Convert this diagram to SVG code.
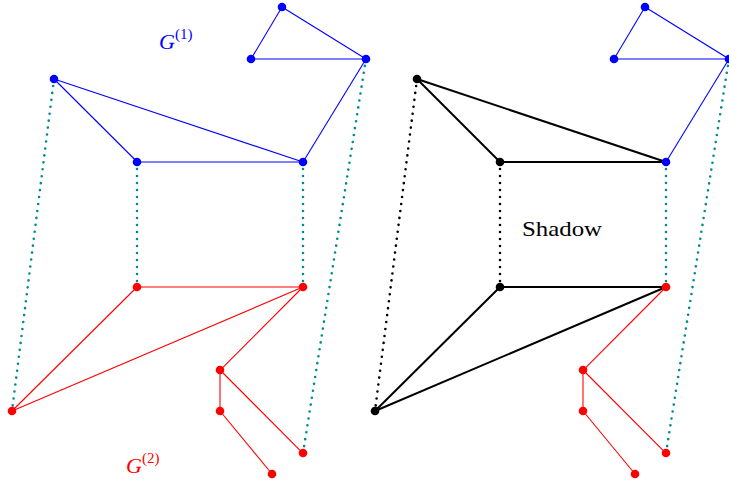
<svg xmlns="http://www.w3.org/2000/svg" width="729" height="482" viewBox="0 0 729 482">
<style>
.b{stroke:#0000ff;stroke-width:1.1;fill:none}
.r{stroke:#ff0000;stroke-width:1.1;fill:none}
.k{stroke:#000000;stroke-width:2;fill:none}
.dt{stroke:#008b8b;stroke-width:2.6;stroke-linecap:round;stroke-dasharray:0 7;fill:none}
.dk{stroke:#000000;stroke-width:2.6;stroke-linecap:round;stroke-dasharray:0 7;fill:none}
.nb{fill:#0000ff}
.nr{fill:#ff0000}
.nk{fill:#000000}
.lbl{font-family:"Liberation Serif","DejaVu Serif",serif}
</style>
<g id="connectors">
<path class="b" stroke="#0000ff" d="M282 7 L251 59"/>
<path class="b" stroke="#0000ff" d="M282 7 L366 59"/>
<path class="b" stroke="#0000ff" d="M251 59 L366 59"/>
<path class="b" stroke="#0000ff" d="M366 59 L303 162"/>
<path class="b" stroke="#0000ff" d="M54 79 L303 162"/>
<path class="b" stroke="#0000ff" d="M54 79 L137.3 162"/>
<path class="b" stroke="#0000ff" d="M137 162 L303 162"/>
<path class="r" stroke="#ff0000" d="M137 287 L303 287"/>
<path class="r" stroke="#ff0000" d="M137 287 L12 411"/>
<path class="r" stroke="#ff0000" d="M303 287 L12 411"/>
<path class="r" stroke="#ff0000" d="M303 287 L220 370.3"/>
<path class="r" stroke="#ff0000" d="M220 370 L220 411"/>
<path class="r" stroke="#ff0000" d="M220 370 L303 453.3"/>
<path class="r" stroke="#ff0000" d="M220 411 L272 474"/>
<path class="dt" d="M54 79 L12 411"/>
<path class="dt" d="M137 162 L137 287"/>
<path class="dt" d="M303 162 L303 287"/>
<path class="dt" d="M366 59 L303 453"/>
<path class="b" stroke="#0000ff" d="M645 7 L614 59"/>
<path class="b" stroke="#0000ff" d="M645 7 L729 59"/>
<path class="b" stroke="#0000ff" d="M614 59 L729 59"/>
<path class="b" stroke="#0000ff" d="M729 59 L666 162"/>
<path class="k" d="M417 79 L666 162"/>
<path class="k" d="M417 79 L500 162"/>
<path class="k" d="M500 162 L666 162"/>
<path class="k" d="M500 287 L666 287"/>
<path class="k" d="M500 287 L375 411"/>
<path class="k" d="M666 287 L375 411"/>
<path class="r" stroke="#ff0000" d="M666 287 L583 370.3"/>
<path class="r" stroke="#ff0000" d="M583 370 L583 411"/>
<path class="r" stroke="#ff0000" d="M583 370 L666 453.3"/>
<path class="r" stroke="#ff0000" d="M583 411 L635 474"/>
<path class="dk" d="M417 79 L375 411"/>
<path class="dk" d="M500 162 L500 287"/>
<path class="dt" d="M666 162 L666 287"/>
<path class="dt" d="M729 59 L666 453"/>
</g>
<g id="n_l_a1"><circle class="nb" cx="282" cy="7" r="4.3"/></g>
<g id="n_l_a2"><circle class="nb" cx="251" cy="59" r="4.3"/></g>
<g id="n_l_a3"><circle class="nb" cx="366" cy="59" r="4.3"/></g>
<g id="n_l_b1"><circle class="nb" cx="54" cy="79" r="4.3"/></g>
<g id="n_l_b2"><circle class="nb" cx="137" cy="162" r="4.3"/></g>
<g id="n_l_b3"><circle class="nb" cx="303" cy="162" r="4.3"/></g>
<g id="n_l_r1"><circle class="nr" cx="137" cy="287" r="4.3"/></g>
<g id="n_l_r2"><circle class="nr" cx="303" cy="287" r="4.3"/></g>
<g id="n_l_r3"><circle class="nr" cx="12" cy="411" r="4.3"/></g>
<g id="n_l_r4"><circle class="nr" cx="220" cy="370" r="4.3"/></g>
<g id="n_l_r5"><circle class="nr" cx="220" cy="411" r="4.3"/></g>
<g id="n_l_r6"><circle class="nr" cx="303" cy="453" r="4.3"/></g>
<g id="n_l_r7"><circle class="nr" cx="272" cy="474" r="4.3"/></g>
<g id="n_r_a1"><circle class="nb" cx="645" cy="7" r="4.3"/></g>
<g id="n_r_a2"><circle class="nb" cx="614" cy="59" r="4.3"/></g>
<g id="n_r_a3"><circle class="nb" cx="729" cy="59" r="4.3"/></g>
<g id="n_r_b1"><circle class="nk" cx="417" cy="79" r="4.3"/></g>
<g id="n_r_b2"><circle class="nk" cx="500" cy="162" r="4.3"/></g>
<g id="n_r_b3"><circle class="nb" cx="666" cy="162" r="4.3"/></g>
<g id="n_r_r1"><circle class="nk" cx="500" cy="287" r="4.3"/></g>
<g id="n_r_r2"><circle class="nr" cx="666" cy="287" r="4.3"/></g>
<g id="n_r_r3"><circle class="nk" cx="375" cy="411" r="4.3"/></g>
<g id="n_r_r4"><circle class="nr" cx="583" cy="370" r="4.3"/></g>
<g id="n_r_r5"><circle class="nr" cx="583" cy="411" r="4.3"/></g>
<g id="n_r_r6"><circle class="nr" cx="666" cy="453" r="4.3"/></g>
<g id="n_r_r7"><circle class="nr" cx="635" cy="474" r="4.3"/></g>
<g id="label_g1"><text class="lbl" x="159" y="49" fill="#0000ff" font-size="22" font-style="italic">G<tspan font-style="normal" font-size="15" dy="-10">(1)</tspan></text></g>
<g id="label_g2"><text class="lbl" x="126" y="473" fill="#ff0000" font-size="22" font-style="italic">G<tspan font-style="normal" font-size="15" dy="-10">(2)</tspan></text></g>
<g id="label_shadow"><text class="lbl" x="522" y="236" fill="#000000" font-size="21" textLength="80" lengthAdjust="spacingAndGlyphs">Shadow</text></g>
</svg>
